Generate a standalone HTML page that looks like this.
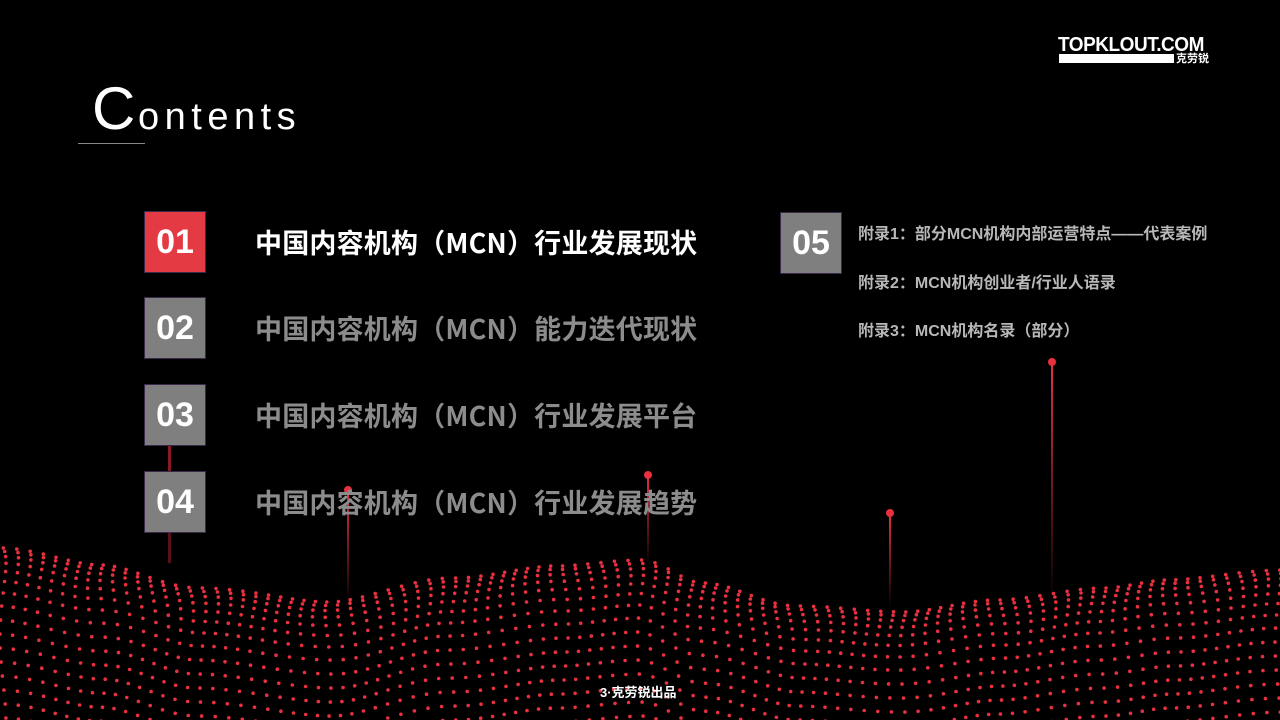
<!DOCTYPE html>
<html><head><meta charset="utf-8">
<style>
html,body{margin:0;padding:0;background:#000;}
#s{position:relative;width:1280px;height:720px;overflow:hidden;background:#000;font-family:"Liberation Sans","Noto Sans CJK SC",sans-serif;}
.abs{position:absolute;}
.box{position:absolute;width:60px;height:60px;border:1px solid #3a2a4a;color:#fff;font-weight:bold;font-size:34px;line-height:60px;text-align:center;font-family:"Liberation Sans","Noto Sans CJK SC",sans-serif;}
.t{position:absolute;left:255px;font-size:27px;font-weight:bold;color:#8c8c8c;white-space:nowrap;font-family:"Noto Sans CJK SC",sans-serif;letter-spacing:0.2px;}
.r{position:absolute;left:858px;font-size:16px;font-weight:bold;color:#b8b8b8;white-space:nowrap;font-family:"Liberation Sans","Noto Sans CJK SC",sans-serif;}
</style></head><body>
<div id="s">
<svg id="dots" class="abs" style="left:0;top:0" width="1280" height="720">
<defs>
<linearGradient id="lg" x1="0" y1="0" x2="0" y2="1"><stop offset="0" stop-color="#e8303f"/><stop offset="1" stop-color="#e8303f" stop-opacity="0"/></linearGradient>
</defs>
<rect x="168" y="446" width="3" height="26" fill="#8a1a22"/>
<rect x="168" y="533" width="3" height="30" fill="#5a1016"/>
<rect x="347" y="490" width="2" height="115" fill="url(#lg)"/><circle cx="348" cy="490" r="4" fill="#e8303f"/>
<rect x="647" y="475" width="2" height="90" fill="url(#lg)"/><circle cx="648" cy="475" r="4" fill="#e8303f"/>
<rect x="889" y="513" width="2" height="95" fill="url(#lg)"/><circle cx="890" cy="513" r="4" fill="#e8303f"/>
<rect x="1051" y="362" width="2" height="240" fill="url(#lg)"/><circle cx="1052" cy="362" r="4" fill="#e8303f"/>
<g id="g"></g>
</svg>
<div class="abs" style="left:92px;top:74px;font-size:60px;color:#fff;line-height:70px;">C</div>
<div class="abs" style="left:138px;top:92px;font-size:38px;color:#fff;letter-spacing:5.5px;line-height:50px;">ontents</div>
<div class="abs" style="left:78px;top:143px;width:67px;height:1px;background:#888;"></div>
<div class="abs" style="left:1058px;top:34px;color:#fff;font-weight:bold;font-size:20px;letter-spacing:-0.5px;line-height:22px;transform:scaleX(0.95);transform-origin:left;">TOPKLOUT.COM</div>
<div class="abs" style="left:1059px;top:54px;width:115px;height:9px;background:#fff;"></div>
<div class="abs" style="left:1176px;top:51px;color:#fff;font-size:11px;font-weight:bold;line-height:14px;font-family:'Noto Sans CJK SC',sans-serif;">克劳锐</div>
<div class="box" style="left:144px;top:211px;background:#e33a44;">01</div>
<div class="box" style="left:144px;top:297px;background:#7f7f7f;">02</div>
<div class="box" style="left:144px;top:384px;background:#7f7f7f;">03</div>
<div class="box" style="left:144px;top:471px;background:#7f7f7f;">04</div>
<div class="box" style="left:780px;top:212px;background:#7f7f7f;">05</div>
<div class="t" style="top:222px;color:#fff;">中国内容机构（MCN）行业发展现状</div>
<div class="t" style="top:308px;">中国内容机构（MCN）能力迭代现状</div>
<div class="t" style="top:395px;">中国内容机构（MCN）行业发展平台</div>
<div class="t" style="top:482px;">中国内容机构（MCN）行业发展趋势</div>
<div class="r" style="top:220px;">附录1：部分MCN机构内部运营特点——代表案例</div>
<div class="r" style="top:269px;">附录2：MCN机构创业者/行业人语录</div>
<div class="r" style="top:317px;">附录3：MCN机构名录（部分）</div>
<div class="abs" style="left:600px;top:682px;color:#fff;font-size:13px;font-weight:bold;font-family:'Liberation Sans','Noto Sans CJK SC',sans-serif;">3·克劳锐出品</div>
</div>
<script>
(function(){
var pts=[[0,548],[100,565],[200,588],[330,602],[450,578],[560,566],[640,560],[700,583],[800,606],[900,612],[1000,600],[1100,588],[1170,580],[1280,570]];
function topY(x){for(var i=0;i<pts.length-1;i++){if(x<=pts[i+1][0]){var a=pts[i],b=pts[i+1],t=(x-a[0])/(b[0]-a[0]);t=t*t*(3-2*t);return a[1]+(b[1]-a[1])*t;}}return 570;}
var s='';
for(var x=3;x<1285;x+=12.5){var y=topY(x),k=0;
 while(y<722){var jx=x+Math.sin(k*0.5+x*0.03)*3;s+='<circle cx="'+jx.toFixed(1)+'" cy="'+y.toFixed(1)+'" r="1.8" fill="#e8303f"/>';var sp=3.5+k*1.6;if(sp>14)sp=14;y+=sp;k++;}}
document.getElementById('g').innerHTML=s;
})();
</script>
</body></html>
